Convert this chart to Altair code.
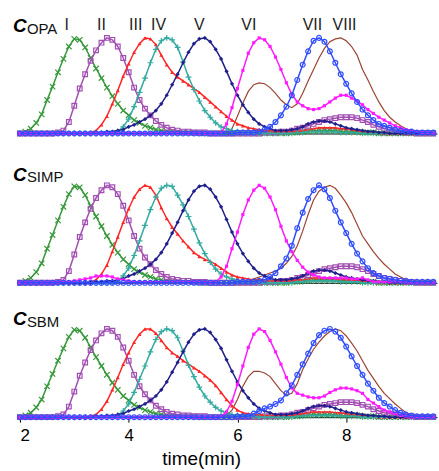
import altair as alt
import pandas as pd

# ---------------- data ----------------
times = [2.0, 2.1, 2.2, 2.3, 2.4, 2.5, 2.6, 2.7, 2.8, 2.9,
         3.0, 3.1, 3.2, 3.3, 3.4, 3.5, 3.6, 3.7, 3.8, 3.9,
         4.0, 4.1, 4.2, 4.3, 4.4, 4.5, 4.6, 4.7, 4.8, 4.9,
         5.0, 5.1, 5.2, 5.3, 5.4, 5.5, 5.6, 5.7, 5.8, 5.9,
         6.0, 6.1, 6.2, 6.3, 6.4, 6.5, 6.6, 6.7, 6.8, 6.9,
         7.0, 7.1, 7.2, 7.3, 7.4, 7.5, 7.6, 7.7, 7.8, 7.9,
         8.0, 8.1, 8.2, 8.3, 8.4, 8.5, 8.6, 8.7, 8.8, 8.9,
         9.0, 9.1, 9.2, 9.3, 9.4, 9.5, 9.6]

series_keys = ["I", "II", "III", "IV", "V", "VI", "VII", "VIII"]
peak_label_times = [2.86, 3.50, 4.13, 4.55, 5.30, 6.21, 7.38, 7.97]
panel_names = ["OPA", "SIMP", "SBM"]
x_ticks = [2, 4, 6, 8]

# ---- C_OPA ----
opa_I = [0.00, 0.02, 0.05, 0.11, 0.20, 0.35, 0.49, 0.64, 0.78, 0.91,
         0.99, 0.98, 0.90, 0.79, 0.68, 0.58, 0.48, 0.39, 0.31, 0.24,
         0.19, 0.14, 0.11, 0.08, 0.06, 0.04, 0.03, 0.02, 0.02, 0.01,
         0.01, 0.01, 0.01, 0.00, 0.00, 0.00, 0.00, 0.00, 0.00, 0.00,
         0.00, 0.00, 0.00, 0.00, 0.00, 0.00, 0.00, 0.00, 0.00, 0.00,
         0.01, 0.01, 0.02, 0.02, 0.03, 0.03, 0.03, 0.03, 0.03, 0.02,
         0.02, 0.02, 0.02, 0.01, 0.01, 0.01, 0.00, 0.00, 0.00, 0.00,
         0.00, 0.00, 0.00, 0.00, 0.00, 0.00, 0.00]
opa_II = [0.00, 0.00, 0.00, 0.00, 0.00, 0.00, 0.00, 0.01, 0.03, 0.12,
          0.29, 0.47, 0.62, 0.76, 0.87, 0.95, 1.00, 0.98, 0.91, 0.79,
          0.64, 0.48, 0.35, 0.26, 0.19, 0.13, 0.09, 0.06, 0.04, 0.03,
          0.02, 0.02, 0.01, 0.01, 0.01, 0.00, 0.00, 0.00, 0.00, 0.00,
          0.00, 0.00, 0.00, 0.00, 0.00, 0.01, 0.01, 0.01, 0.02, 0.02,
          0.03, 0.05, 0.06, 0.08, 0.10, 0.12, 0.14, 0.15, 0.16, 0.17,
          0.17, 0.17, 0.16, 0.14, 0.12, 0.09, 0.07, 0.05, 0.04, 0.03,
          0.02, 0.01, 0.01, 0.00, 0.00, 0.00, 0.00]
opa_III = [0.00, 0.00, 0.00, 0.00, 0.00, 0.00, 0.00, 0.00, 0.00, 0.00,
           0.00, 0.00, 0.00, 0.01, 0.03, 0.09, 0.18, 0.31, 0.45, 0.60,
           0.73, 0.85, 0.94, 1.00, 0.99, 0.93, 0.82, 0.72, 0.64, 0.59,
           0.55, 0.51, 0.47, 0.43, 0.38, 0.33, 0.28, 0.23, 0.18, 0.14,
           0.10, 0.08, 0.06, 0.05, 0.04, 0.03, 0.03, 0.02, 0.02, 0.02,
           0.02, 0.02, 0.03, 0.04, 0.05, 0.06, 0.06, 0.06, 0.06, 0.05,
           0.05, 0.04, 0.03, 0.02, 0.02, 0.01, 0.01, 0.00, 0.00, 0.00,
           0.00, 0.00, 0.00, 0.00, 0.00, 0.00, 0.00]
opa_IV = [0.00, 0.00, 0.00, 0.00, 0.00, 0.00, 0.00, 0.00, 0.00, 0.00,
          0.00, 0.00, 0.00, 0.00, 0.00, 0.00, 0.00, 0.00, 0.02, 0.07,
          0.15, 0.28, 0.43, 0.58, 0.74, 0.88, 0.97, 1.00, 0.98, 0.90,
          0.75, 0.59, 0.46, 0.34, 0.24, 0.17, 0.11, 0.07, 0.05, 0.03,
          0.02, 0.01, 0.01, 0.01, 0.00, 0.00, 0.00, 0.00, 0.00, 0.00,
          0.00, 0.01, 0.01, 0.02, 0.02, 0.02, 0.02, 0.02, 0.02, 0.01,
          0.01, 0.01, 0.01, 0.00, 0.00, 0.00, 0.00, 0.00, 0.00, 0.00,
          0.00, 0.00, 0.00, 0.00, 0.00, 0.00, 0.00]
opa_V = [0.00, 0.00, 0.00, 0.00, 0.00, 0.00, 0.00, 0.00, 0.00, 0.00,
         0.00, 0.00, 0.00, 0.00, 0.01, 0.01, 0.02, 0.02, 0.03, 0.04,
         0.07, 0.09, 0.12, 0.15, 0.19, 0.24, 0.31, 0.40, 0.51, 0.62,
         0.74, 0.85, 0.94, 0.99, 1.00, 0.96, 0.88, 0.78, 0.65, 0.52,
         0.40, 0.30, 0.22, 0.15, 0.10, 0.07, 0.05, 0.03, 0.03, 0.03,
         0.04, 0.05, 0.07, 0.10, 0.12, 0.13, 0.13, 0.12, 0.10, 0.08,
         0.06, 0.05, 0.04, 0.03, 0.02, 0.02, 0.01, 0.01, 0.00, 0.00,
         0.00, 0.00, 0.00, 0.00, 0.00, 0.00, 0.00]
opa_VI = [0.00, 0.00, 0.00, 0.00, 0.00, 0.00, 0.00, 0.00, 0.00, 0.00,
          0.00, 0.00, 0.00, 0.00, 0.00, 0.00, 0.00, 0.00, 0.00, 0.00,
          0.00, 0.00, 0.00, 0.00, 0.00, 0.00, 0.00, 0.00, 0.00, 0.00,
          0.00, 0.00, 0.00, 0.00, 0.00, 0.00, 0.00, 0.01, 0.10, 0.27,
          0.47, 0.66, 0.84, 0.95, 1.00, 0.98, 0.91, 0.80, 0.67, 0.53,
          0.41, 0.33, 0.29, 0.26, 0.25, 0.26, 0.29, 0.33, 0.37, 0.40,
          0.40, 0.37, 0.34, 0.30, 0.25, 0.21, 0.17, 0.14, 0.11, 0.08,
          0.06, 0.04, 0.03, 0.02, 0.01, 0.01, 0.00]
opa_VII = [0.00, 0.00, 0.00, 0.00, 0.00, 0.00, 0.00, 0.00, 0.00, 0.00,
           0.00, 0.00, 0.00, 0.00, 0.00, 0.00, 0.00, 0.00, 0.00, 0.00,
           0.00, 0.00, 0.00, 0.00, 0.00, 0.00, 0.00, 0.00, 0.00, 0.00,
           0.00, 0.00, 0.00, 0.00, 0.00, 0.00, 0.00, 0.00, 0.00, 0.00,
           0.01, 0.01, 0.01, 0.01, 0.02, 0.04, 0.07, 0.12, 0.19, 0.28,
           0.40, 0.56, 0.72, 0.86, 0.97, 1.00, 0.96, 0.86, 0.74, 0.62,
           0.52, 0.42, 0.33, 0.25, 0.19, 0.14, 0.10, 0.08, 0.06, 0.04,
           0.03, 0.02, 0.02, 0.01, 0.01, 0.01, 0.01]
opa_VIII = [0.00, 0.00, 0.00, 0.00, 0.00, 0.00, 0.00, 0.00, 0.00, 0.00,
            0.00, 0.00, 0.00, 0.00, 0.00, 0.00, 0.00, 0.00, 0.00, 0.00,
            0.00, 0.00, 0.00, 0.00, 0.00, 0.00, 0.00, 0.00, 0.00, 0.00,
            0.00, 0.00, 0.00, 0.00, 0.00, 0.00, 0.00, 0.00, 0.01, 0.05,
            0.18, 0.32, 0.44, 0.51, 0.53, 0.52, 0.48, 0.42, 0.35, 0.30,
            0.27, 0.31, 0.42, 0.55, 0.67, 0.79, 0.89, 0.96, 0.99, 1.00,
            0.97, 0.91, 0.82, 0.67, 0.56, 0.44, 0.33, 0.24, 0.17, 0.12,
            0.08, 0.05, 0.03, 0.02, 0.01, 0.01, 0.00]

# ---- C_SIMP ----
simp_I = opa_I
simp_II = opa_II
simp_III = [0.00, 0.00, 0.00, 0.00, 0.00, 0.00, 0.00, 0.00, 0.00, 0.00,
            0.00, 0.00, 0.00, 0.01, 0.03, 0.09, 0.18, 0.32, 0.47, 0.62,
            0.76, 0.88, 0.96, 1.00, 0.98, 0.90, 0.77, 0.66, 0.57, 0.50,
            0.43, 0.37, 0.31, 0.27, 0.24, 0.22, 0.19, 0.15, 0.11, 0.08,
            0.06, 0.05, 0.04, 0.03, 0.03, 0.02, 0.02, 0.02, 0.02, 0.02,
            0.02, 0.03, 0.03, 0.04, 0.05, 0.05, 0.05, 0.05, 0.04, 0.04,
            0.03, 0.03, 0.02, 0.02, 0.01, 0.01, 0.00, 0.00, 0.00, 0.00,
            0.00, 0.00, 0.00, 0.00, 0.00, 0.00, 0.00]
simp_IV = [0.00, 0.00, 0.00, 0.00, 0.00, 0.00, 0.00, 0.00, 0.00, 0.00,
           0.00, 0.00, 0.00, 0.00, 0.00, 0.00, 0.00, 0.00, 0.02, 0.07,
           0.15, 0.28, 0.43, 0.59, 0.75, 0.88, 0.97, 1.00, 0.99, 0.90,
           0.80, 0.68, 0.55, 0.41, 0.30, 0.21, 0.14, 0.09, 0.06, 0.04,
           0.02, 0.01, 0.01, 0.01, 0.00, 0.00, 0.00, 0.00, 0.00, 0.00,
           0.00, 0.01, 0.01, 0.02, 0.02, 0.02, 0.02, 0.02, 0.02, 0.01,
           0.01, 0.01, 0.01, 0.00, 0.00, 0.00, 0.00, 0.00, 0.00, 0.00,
           0.00, 0.00, 0.00, 0.00, 0.00, 0.00, 0.00]
simp_V = opa_V
simp_VI = [0.00, 0.00, 0.00, 0.00, 0.00, 0.00, 0.00, 0.00, 0.01, 0.01,
           0.02, 0.03, 0.04, 0.05, 0.07, 0.07, 0.07, 0.06, 0.04, 0.03,
           0.02, 0.01, 0.01, 0.01, 0.01, 0.01, 0.01, 0.01, 0.01, 0.01,
           0.01, 0.01, 0.01, 0.01, 0.00, 0.00, 0.01, 0.06, 0.17, 0.35,
           0.52, 0.70, 0.85, 0.95, 1.00, 0.97, 0.88, 0.75, 0.58, 0.43,
           0.32, 0.23, 0.16, 0.11, 0.08, 0.06, 0.05, 0.05, 0.05, 0.05,
           0.05, 0.04, 0.04, 0.05, 0.03, 0.01, 0.01, 0.01, 0.01, 0.01,
           0.01, 0.00, 0.00, 0.00, 0.00, 0.00, 0.00]
simp_VII = [0.00, 0.00, 0.00, 0.00, 0.00, 0.00, 0.00, 0.00, 0.00, 0.00,
            0.00, 0.00, 0.00, 0.00, 0.00, 0.00, 0.00, 0.00, 0.00, 0.00,
            0.00, 0.00, 0.00, 0.00, 0.00, 0.00, 0.00, 0.00, 0.00, 0.00,
            0.00, 0.00, 0.00, 0.00, 0.00, 0.00, 0.00, 0.00, 0.00, 0.00,
            0.01, 0.01, 0.01, 0.01, 0.02, 0.03, 0.06, 0.10, 0.17, 0.25,
            0.38, 0.56, 0.72, 0.86, 0.95, 1.00, 0.96, 0.87, 0.74, 0.62,
            0.51, 0.40, 0.30, 0.22, 0.15, 0.10, 0.07, 0.05, 0.04, 0.03,
            0.02, 0.02, 0.01, 0.01, 0.01, 0.01, 0.01]
simp_VIII = [0.00, 0.00, 0.00, 0.00, 0.00, 0.00, 0.00, 0.00, 0.00, 0.00,
             0.00, 0.00, 0.00, 0.00, 0.00, 0.00, 0.00, 0.00, 0.00, 0.00,
             0.00, 0.00, 0.00, 0.00, 0.00, 0.00, 0.00, 0.00, 0.00, 0.00,
             0.00, 0.00, 0.00, 0.00, 0.00, 0.00, 0.00, 0.00, 0.00, 0.00,
             0.00, 0.00, 0.02, 0.04, 0.06, 0.08, 0.10, 0.12, 0.15, 0.20,
             0.27, 0.38, 0.53, 0.70, 0.85, 0.94, 0.98, 1.00, 0.97, 0.90,
             0.82, 0.72, 0.60, 0.48, 0.40, 0.32, 0.25, 0.19, 0.14, 0.09,
             0.06, 0.03, 0.02, 0.01, 0.01, 0.00, 0.00]

# ---- C_SBM ----
sbm_I = opa_I
sbm_II = opa_II
sbm_III = [0.00, 0.00, 0.00, 0.00, 0.00, 0.00, 0.00, 0.00, 0.00, 0.00,
           0.00, 0.00, 0.00, 0.01, 0.03, 0.09, 0.18, 0.31, 0.45, 0.60,
           0.73, 0.85, 0.94, 1.00, 1.00, 0.95, 0.87, 0.79, 0.73, 0.69,
           0.64, 0.60, 0.56, 0.52, 0.47, 0.42, 0.36, 0.28, 0.20, 0.13,
           0.08, 0.05, 0.04, 0.03, 0.03, 0.02, 0.02, 0.02, 0.02, 0.02,
           0.02, 0.03, 0.04, 0.05, 0.06, 0.06, 0.06, 0.06, 0.05, 0.05,
           0.04, 0.03, 0.02, 0.02, 0.01, 0.01, 0.00, 0.00, 0.00, 0.00,
           0.00, 0.00, 0.00, 0.00, 0.00, 0.00, 0.00]
sbm_IV = opa_IV
sbm_V = opa_V
sbm_VI = [0.00, 0.00, 0.00, 0.00, 0.00, 0.00, 0.00, 0.00, 0.00, 0.00,
          0.00, 0.00, 0.00, 0.00, 0.00, 0.00, 0.00, 0.00, 0.00, 0.00,
          0.00, 0.00, 0.00, 0.00, 0.00, 0.00, 0.00, 0.00, 0.00, 0.00,
          0.00, 0.00, 0.00, 0.00, 0.00, 0.00, 0.00, 0.01, 0.06, 0.18,
          0.37, 0.58, 0.79, 0.94, 1.00, 0.97, 0.87, 0.74, 0.60, 0.45,
          0.33, 0.27, 0.25, 0.23, 0.22, 0.22, 0.24, 0.28, 0.31, 0.33,
          0.33, 0.32, 0.30, 0.27, 0.20, 0.16, 0.12, 0.08, 0.06, 0.04,
          0.02, 0.01, 0.00, 0.00, 0.00, 0.00, 0.00]
sbm_VII = [0.00, 0.00, 0.00, 0.00, 0.00, 0.00, 0.00, 0.00, 0.00, 0.00,
           0.00, 0.00, 0.00, 0.00, 0.00, 0.00, 0.00, 0.00, 0.00, 0.00,
           0.00, 0.00, 0.00, 0.00, 0.00, 0.00, 0.00, 0.00, 0.00, 0.00,
           0.00, 0.00, 0.00, 0.00, 0.00, 0.00, 0.00, 0.00, 0.00, 0.00,
           0.01, 0.01, 0.01, 0.04, 0.07, 0.10, 0.12, 0.15, 0.19, 0.27,
           0.36, 0.48, 0.60, 0.72, 0.84, 0.93, 0.98, 1.00, 0.97, 0.90,
           0.80, 0.69, 0.58, 0.48, 0.38, 0.30, 0.22, 0.16, 0.12, 0.08,
           0.05, 0.03, 0.02, 0.01, 0.01, 0.01, 0.01]
sbm_VIII = [0.00, 0.00, 0.00, 0.00, 0.00, 0.00, 0.00, 0.00, 0.00, 0.00,
            0.00, 0.00, 0.00, 0.00, 0.00, 0.00, 0.00, 0.00, 0.00, 0.00,
            0.00, 0.00, 0.00, 0.00, 0.00, 0.00, 0.00, 0.00, 0.00, 0.00,
            0.00, 0.00, 0.00, 0.00, 0.00, 0.00, 0.00, 0.00, 0.02, 0.08,
            0.20, 0.35, 0.46, 0.52, 0.52, 0.50, 0.46, 0.38, 0.30, 0.25,
            0.27, 0.38, 0.54, 0.66, 0.77, 0.85, 0.92, 0.97, 1.00, 0.98,
            0.92, 0.84, 0.75, 0.64, 0.53, 0.44, 0.35, 0.27, 0.21, 0.15,
            0.10, 0.05, 0.03, 0.02, 0.01, 0.00, 0.00]

panel_data = {
    "OPA": dict(zip(series_keys, [opa_I, opa_II, opa_III, opa_IV, opa_V, opa_VI, opa_VII, opa_VIII])),
    "SIMP": dict(zip(series_keys, [simp_I, simp_II, simp_III, simp_IV, simp_V, simp_VI, simp_VII, simp_VIII])),
    "SBM": dict(zip(series_keys, [sbm_I, sbm_II, sbm_III, sbm_IV, sbm_V, sbm_VI, sbm_VII, sbm_VIII])),
}

# ---------------- styling ----------------
FONT = "Liberation Sans"
STYLE = {
    "I": dict(color="#36983a", shape="M-1,-1L1,1M-1,1L1,-1", filled=False, size=30),
    "II": dict(color="#a24fb3", shape="square", filled=False, size=22),
    "III": dict(color="#ff2626", shape="triangle-up", filled=True, size=16),
    "IV": dict(color="#33aaa0", shape="M-1,0L1,0M0,-1L0,1", filled=False, size=34),
    "V": dict(color="#20208c", shape="diamond", filled=True, size=18),
    "VI": dict(color="#ff1aff", shape="square", filled=True, size=10),
    "VII": dict(color="#2f4cff", shape="circle", filled=False, size=24),
    "VIII": dict(color="#9b4433"),
}
DRAW_ORDER = ["VIII", "I", "II", "III", "IV", "V", "VI", "VII"]

X_SCALE = alt.Scale(domain=[2, 9.67], nice=False, zero=False)

PANELS = [
    # name, height, ymax, bottom axis, C baseline, subscript baseline
    ("OPA", 125, 1.302, False, 23, 25),
    ("SIMP", 140, 1.43, False, 38, 39),
    ("SBM", 125, 1.41, True, 32, 34),
]


def make_axis(bottom):
    if bottom:
        return alt.Axis(values=x_ticks, grid=False, tickSize=5, tickColor="black",
                        tickWidth=1, domainColor="black", domainWidth=1,
                        labelFont=FONT, labelFontSize=17, labelColor="black",
                        labelPadding=5, title="time(min)", titleFont=FONT,
                        titleFontSize=19, titleFontWeight="normal", titleColor="black",
                        titleX=182, titleY=48, titleBaseline="alphabetic",
                        titleAlign="center")
    return alt.Axis(values=x_ticks, grid=False, ticks=False, labels=False, title="",
                    domainColor="black", domainWidth=1)


def make_panel(name, height, ymax, bottom, c_base, sub_base):
    axis = make_axis(bottom)
    xenc = alt.X("time:Q", scale=X_SCALE, axis=axis)
    yenc = alt.Y("value:Q", scale=alt.Scale(domain=[0, ymax], nice=False, zero=True), axis=None)
    layers = []
    for key in DRAW_ORDER:
        st = STYLE[key]
        df = pd.DataFrame({"time": times, "value": panel_data[name][key]})
        base = alt.Chart(df).encode(x=xenc, y=yenc)
        if key == "VIII":
            layers.append(base.mark_line(color=st["color"], strokeWidth=1.2))
        else:
            layers.append(base.mark_line(color=st["color"], strokeWidth=1.5))
            layers.append(base.mark_point(shape=st["shape"], filled=st["filled"],
                                          size=st["size"], color=st["color"],
                                          strokeWidth=1.2, opacity=1))
    lab = pd.DataFrame({"c": ["C"], "sub": [name]})
    layers.append(alt.Chart(lab).mark_text(align="left", baseline="alphabetic", font=FONT,
                                           fontSize=19, fontStyle="italic", fontWeight="bold",
                                           color="black")
                  .encode(text="c:N", x=alt.value(-7), y=alt.value(c_base)))
    layers.append(alt.Chart(lab).mark_text(align="left", baseline="alphabetic", font=FONT,
                                           fontSize=15, color="#111111")
                  .encode(text="sub:N", x=alt.value(7), y=alt.value(sub_base)))
    if name == "OPA":
        nums = pd.DataFrame({"time": peak_label_times, "label": series_keys})
        layers.append(alt.Chart(nums).mark_text(align="center", baseline="alphabetic",
                                                font=FONT, fontSize=16, color="#222222")
                      .encode(x=xenc, y=alt.value(21), text="label:N"))
    return alt.layer(*layers).properties(width=419, height=height)


panels = [make_panel(*p) for p in PANELS]

chart = alt.vconcat(*panels, spacing=10, bounds="flush").properties(
    padding={"left": 13, "top": 8, "right": 0, "bottom": 4}
).configure_view(strokeWidth=0)

chart.save("out.html", embed_options={"renderer": "svg", "actions": False})
